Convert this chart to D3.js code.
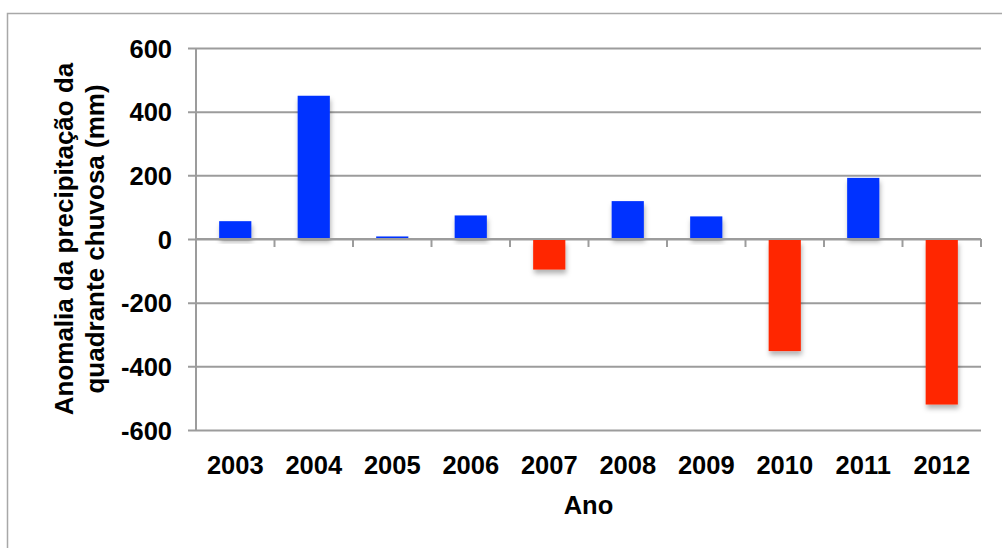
<!DOCTYPE html>
<html>
<head>
<meta charset="utf-8">
<script src="https://cdn.jsdelivr.net/npm/d3@7"></script>
<style>
  html, body { margin: 0; padding: 0; background: #fff; }
  svg { display: block; }
  text { font-family: "Liberation Sans", Arial, sans-serif; font-weight: bold; fill: #000; }
</style>
</head>
<body>
<svg id="chart" width="1002" height="548"></svg>
<script>
// Anomalia da precipitação do quadrante chuvoso, por ano (mm)
const years = ["2003", "2004", "2005", "2006", "2007", "2008", "2009", "2010", "2011", "2012"];
const anomalies = [56, 450, 8, 74, -96, 119, 71, -352, 192, -520];
const yTicks = [-600, -400, -200, 0, 200, 400, 600];
const yTitleLines = ["Anomalia da precipitação da", "quadrante chuvosa (mm)"];
const xTitle = "Ano";

const svg = d3.select("#chart");
const plot = { left: 196, right: 981, top: 48, bottom: 430 };
const gridColor = "#9c9c9c";

// chart frame (only top and left edges fall inside the canvas)
svg.append("path")
  .attr("d", "M7.5,548 L7.5,13.5 L1002,13.5")
  .attr("fill", "none")
  .attr("stroke", "#a8a8a8")
  .attr("stroke-width", 1.5);

const x = d3.scaleBand().domain(years).range([plot.left, plot.right]).padding(0);
const y = d3.scaleLinear().domain([-600, 600]).range([plot.bottom, plot.top]);

// soft shadow under each bar
const defs = svg.append("defs");
const f = defs.append("filter").attr("id", "shadow")
  .attr("x", "-30%").attr("y", "-30%").attr("width", "160%").attr("height", "160%");
f.append("feDropShadow")
  .attr("dx", 1).attr("dy", 4).attr("stdDeviation", 2.5)
  .attr("flood-color", "#000").attr("flood-opacity", 0.3);

// horizontal gridlines, extended left as tick marks
const yAxis = d3.axisLeft(y).tickValues(yTicks).tickSize(-(plot.right - plot.left)).tickSizeOuter(0);
const gy = svg.append("g").attr("transform", `translate(${plot.left},0)`).call(yAxis);
gy.select(".domain").remove();
gy.selectAll(".tick line")
  .attr("x1", -8)
  .attr("stroke", gridColor).attr("stroke-width", 2);
gy.selectAll(".tick text")
  .attr("x", -24)
  .attr("dy", "0.36em")
  .attr("font-family", null)
  .attr("font-size", null)
  .style("font-size", "25.5px")
  .text(d => String(d));

// vertical axis line
svg.append("line")
  .attr("x1", plot.left).attr("x2", plot.left)
  .attr("y1", y(600)).attr("y2", y(-600))
  .attr("stroke", gridColor).attr("stroke-width", 2);

// bars
const barW = x.bandwidth() * 0.41;
svg.append("g").selectAll("rect")
  .data(years.map((yr, i) => ({ yr, v: anomalies[i] })))
  .join("rect")
  .attr("x", d => x(d.yr) + (x.bandwidth() - barW) / 2)
  .attr("width", barW)
  .attr("y", d => d.v >= 0 ? y(d.v) : y(0) + 1)
  .attr("height", d => d.v >= 0 ? y(0) - y(d.v) - 1 : y(d.v) - y(0) - 1)
  .attr("fill", d => d.v >= 0 ? "#0433FF" : "#FF2600")
  .attr("filter", "url(#shadow)");

// zero line with category-boundary ticks
const zeroY = y(0);
svg.append("line")
  .attr("x1", plot.left).attr("x2", plot.right)
  .attr("y1", zeroY).attr("y2", zeroY)
  .attr("stroke", gridColor).attr("stroke-width", 2);
const boundaries = years.map(yr => x(yr)).concat([plot.right]);
svg.append("g").selectAll("line")
  .data(boundaries)
  .join("line")
  .attr("x1", d => d).attr("x2", d => d)
  .attr("y1", zeroY).attr("y2", zeroY + 8)
  .attr("stroke", gridColor).attr("stroke-width", 2);

// category labels below the plot
svg.append("g").selectAll("text")
  .data(years)
  .join("text")
  .attr("x", d => x(d) + x.bandwidth() / 2)
  .attr("y", 473.5)
  .attr("text-anchor", "middle")
  .style("font-size", "25.5px")
  .text(d => d);

// axis titles
svg.append("text")
  .attr("x", 588.5).attr("y", 514)
  .attr("text-anchor", "middle")
  .style("font-size", "25.5px")
  .text(xTitle);

const yt = svg.append("text")
  .attr("transform", `translate(73,${(plot.top + plot.bottom) / 2}) rotate(-90)`)
  .attr("text-anchor", "middle")
  .style("font-size", "26px");
yTitleLines.forEach((line, i) => {
  yt.append("tspan").attr("x", 0).attr("y", i * 31).text(line);
});
</script>
</body>
</html>
